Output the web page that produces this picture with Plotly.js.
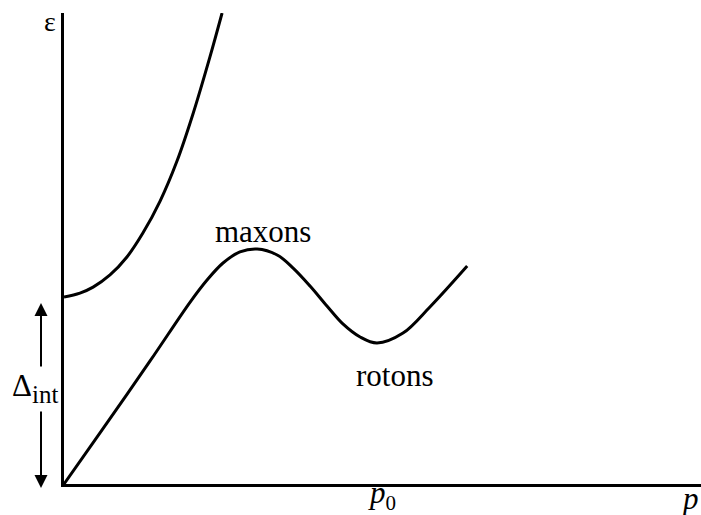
<!DOCTYPE html>
<html>
<head>
<meta charset="utf-8">
<script src="https://cdn.plot.ly/plotly-3.0.1.min.js"></script>
<style>
  body { margin: 0; background: #fff; }
  #chart { width: 701px; height: 515px; }
</style>
</head>
<body>
<div id="chart"></div>
<script>
// upper branch and lower branch (phonon - maxon - roton), arbitrary units: p0 = 1, gap = 1
var upperP = [0, 0.051, 0.093, 0.147, 0.201, 0.252, 0.307, 0.361, 0.412, 0.466, 0.505];
var upperE = [1.0, 1.021, 1.053, 1.118, 1.214, 1.342, 1.513, 1.727, 1.979, 2.283, 2.519];

var lowerP = [0, 0.115, 0.275, 0.403, 0.457, 0.508, 0.562, 0.617, 0.681, 0.732, 0.786, 0.840, 0.891, 0.946, 1.0, 1.083, 1.169, 1.288];
var lowerE = [0, 0.273, 0.658, 0.973, 1.091, 1.182, 1.241, 1.257, 1.225, 1.155, 1.059, 0.952, 0.856, 0.786, 0.754, 0.807, 0.947, 1.166];

var pMax = 2.035;
var eMax = 2.519;

var serif = 'Liberation Serif';
var labelFont = { family: serif, size: 31, color: '#000' };

var data = [
  {
    x: upperP,
    y: upperE,
    type: 'scatter',
    mode: 'lines',
    line: { color: '#000', width: 3, shape: 'spline', smoothing: 1 },
    hoverinfo: 'skip'
  },
  {
    x: lowerP,
    y: lowerE,
    type: 'scatter',
    mode: 'lines',
    line: { color: '#000', width: 3, shape: 'spline', smoothing: 1 },
    hoverinfo: 'skip'
  }
];

var layout = {
  width: 701,
  height: 515,
  margin: { l: 64, r: 0, t: 13, b: 31 },
  paper_bgcolor: '#fff',
  plot_bgcolor: '#fff',
  showlegend: false,
  font: { family: serif },
  xaxis: {
    range: [0, pMax],
    showline: true, linecolor: '#000', linewidth: 3,
    showgrid: false, zeroline: false, showticklabels: false, ticks: ''
  },
  yaxis: {
    range: [0, eMax],
    showline: true, linecolor: '#000', linewidth: 3,
    showgrid: false, zeroline: false, showticklabels: false, ticks: ''
  },
  annotations: [
    { text: 'maxons', x: 0.636, y: 1.353, xref: 'x', yref: 'y', xanchor: 'center', showarrow: false, font: labelFont },
    { text: 'rotons', x: 1.058, y: 0.578, xref: 'x', yref: 'y', xanchor: 'center', showarrow: false, font: labelFont },
    { text: '<i>p</i><sub><span style="font-size:21px">0</span></sub>', x: 1.017, y: 0, xref: 'x', yref: 'y', xanchor: 'center', yanchor: 'top', yshift: 11, showarrow: false, font: labelFont },
    { text: '<i>p</i>', x: (690 - 64) / 637, y: 0, xref: 'paper', yref: 'paper', xanchor: 'center', yanchor: 'top', yshift: 5, showarrow: false, font: labelFont },
    { text: 'ε', x: (50 - 64) / 637, y: (484 - 21) / 471, xref: 'paper', yref: 'paper', xanchor: 'center', yanchor: 'middle', showarrow: false, font: { family: serif, size: 28, color: '#000' } },
    { text: 'Δ<sub><span style="font-size:25px">int</span></sub>', x: (35 - 64) / 637, y: (484 - 388) / 471, xref: 'paper', yref: 'paper', xanchor: 'center', yanchor: 'middle', showarrow: false, font: labelFont },
    // double arrow for the gap, drawn as two halves around the label
    { text: '', x: (41 - 64) / 637, y: (484 - 303) / 471, xref: 'paper', yref: 'paper',
      showarrow: true, ax: 0, ay: 65, arrowhead: 2, arrowsize: 1.3, arrowwidth: 2, arrowcolor: '#000' },
    { text: '', x: (41 - 64) / 637, y: (484 - 488) / 471, xref: 'paper', yref: 'paper',
      showarrow: true, ax: 0, ay: -78, arrowhead: 2, arrowsize: 1.3, arrowwidth: 2, arrowcolor: '#000' }
  ]
};

Plotly.newPlot('chart', data, layout, { staticPlot: true, displayModeBar: false });
</script>
</body>
</html>
